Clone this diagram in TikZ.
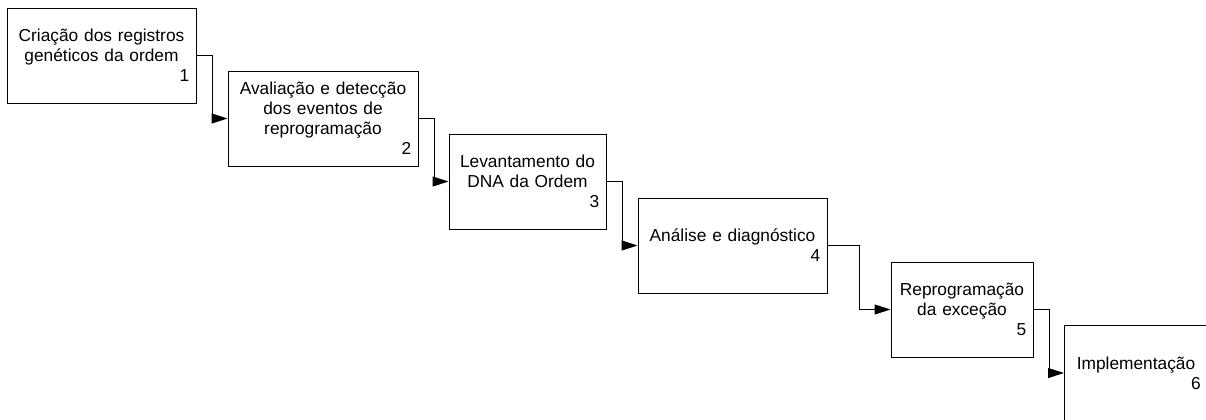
\documentclass[tikz,border=0pt]{standalone}
\usepackage{fontspec}
\setmainfont{Liberation Sans}
\usetikzlibrary{arrows.meta}
\lefthyphenmin=64
\begin{document}
\begin{tikzpicture}[x=0.75pt,y=-0.75pt]
	\tikzstyle{every node}+=[font=\fontsize{13}{15}\selectfont]
	\tikzstyle{stepbox}=[draw,line width=0.75pt,minimum height=71.25pt,inner xsep=5pt,align=center]
	\tikzstyle{flow}=[line width=0.75pt,-{Triangle[length=12pt,width=7.5pt]}]
	\useasboundingbox (0,0) rectangle (1206,419);

	\node [stepbox,text width=131.75pt] (reg) at (101.5,55.5) {Criação dos registros\\genéticos da ordem\\\hfill 1};
	\node [stepbox,text width=132.5pt] (aval) at (323,118.5) {Avaliação e detecção\\dos eventos de\\reprogramação\\\hfill 2};
	\node [stepbox,text width=107.75pt] (dna) at (527.5,181.5) {Levantamento do\\DNA da Ordem\\\hfill 3};
	\node [stepbox,text width=131.75pt] (diag) at (732.5,245.5) {Análise e diagnóstico\\\hfill 4};
	\node [stepbox,text width=96.5pt] (repr) at (962,309.5) {Reprogramação\\da exceção\\\hfill 5};
	\node [stepbox,text width=97.25pt] (impl) at (1136,373) {Implementação\\\hfill 6};

	% elbow connectors
	\draw [flow] (reg.east) -- ++(16,0) |- (aval.west);
	\draw [flow] (aval.east) -- ++(15.5,0) |- (dna.west);
	\draw [flow] (dna.east) -- ++(16,0) |- (diag.west);
	\draw [flow] (diag.east) -- ++(32,0) |- (repr.west);
	\draw [flow] (repr.east) -- ++(15.5,0) |- (impl.west);
\end{tikzpicture}
\end{document}
